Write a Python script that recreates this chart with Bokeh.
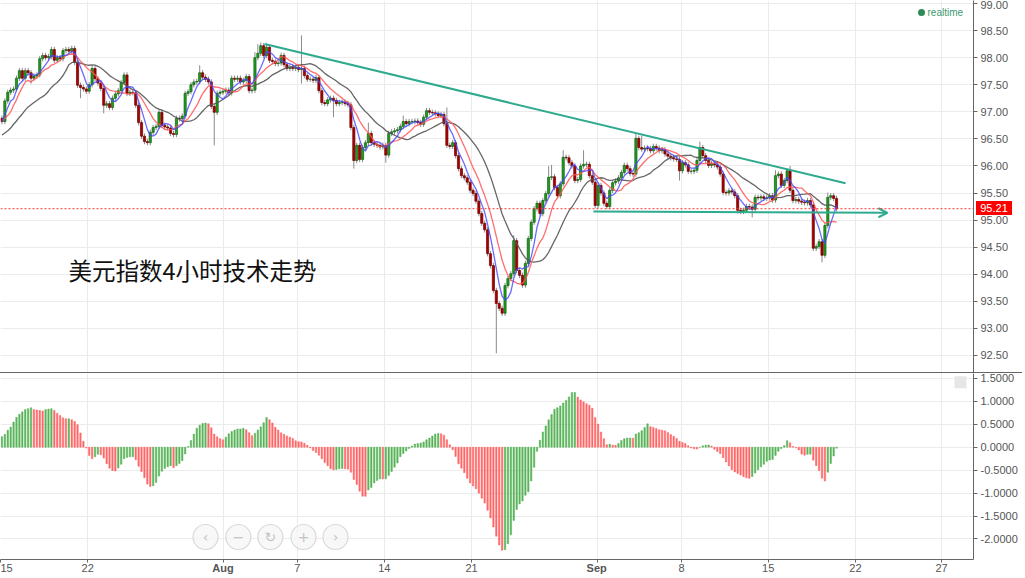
import numpy as np
import pandas as pd
from bokeh.plotting import figure
from bokeh.layouts import column
from bokeh.models import (ColumnDataSource, FixedTicker, Grid, Span, Label, Arrow,
                          OpenHead, NumeralTickFormatter, Range1d, Div)
from bokeh.embed import file_html
from bokeh.resources import INLINE
from bokeh.core.properties import value

# ---------------- data (4h candles, index 0 = Jul 15) ----------------
CLOSE = [
    96.82, 97.2, 97.36, 97.4, 97.42, 97.62, 97.76, 97.62, 97.76, 97.72,
    97.62, 97.66, 97.68, 97.98, 98.04, 98.0, 98.02, 98.15, 97.95, 98.0,
    97.98, 98.13, 98.15, 98.12, 98.17, 97.91, 97.49, 97.45, 97.42, 97.38,
    97.5, 97.8, 97.61, 97.53, 97.43, 97.12, 97.15, 97.08, 97.25, 97.33,
    97.39, 97.54, 97.68, 97.34, 97.36, 97.35, 97.12, 96.8, 96.55, 96.45,
    96.43, 96.62, 96.71, 96.73, 96.99, 96.75, 96.72, 96.7, 96.6, 96.58,
    96.88, 96.87, 96.92, 97.34, 97.37, 97.5, 97.55, 97.56, 97.72, 97.64,
    97.6, 97.55, 97.1, 96.99, 97.34, 97.36, 97.38, 97.4, 97.35, 97.62,
    97.6, 97.62, 97.55, 97.58, 97.65, 97.39, 97.4, 98.0, 98.08, 98.22,
    98.04, 98.19, 97.95, 97.93, 97.89, 97.9, 98.04, 97.87, 97.8, 97.82,
    97.8, 97.82, 97.78, 97.8, 97.67, 97.6, 97.6, 97.58, 97.63, 97.39,
    97.17, 97.15, 97.22, 97.25, 97.21, 97.15, 97.17, 97.18, 97.15, 97.13,
    96.71, 96.1, 96.38, 96.12, 96.34, 96.43, 96.6, 96.43, 96.4, 96.38,
    96.35, 96.38, 96.2, 96.6, 96.63, 96.65, 96.67, 96.73, 96.82, 96.78,
    96.82, 96.82, 96.83, 96.8, 96.77, 96.9, 97.02, 96.99, 96.98, 96.96,
    96.93, 96.95, 96.78, 96.38, 96.36, 96.43, 96.19, 95.95, 95.82, 95.78,
    95.7, 95.55, 95.49, 95.35, 95.12, 94.94, 94.82, 94.38, 94.16, 93.7,
    93.46, 93.37, 93.28, 93.79, 93.92, 94.01, 94.62, 94.07, 93.98, 93.8,
    94.2, 94.66, 94.96, 95.21, 95.31, 95.12, 95.36, 95.49, 95.79, 95.8,
    95.6, 95.45, 95.67, 96.16, 96.15, 96.06, 96.0, 95.73, 95.75, 96.0,
    96.03, 96.03, 95.82, 95.7, 95.27, 95.64, 95.5, 95.31, 95.25, 95.55,
    95.69, 95.72, 95.78, 95.88, 96.01, 95.95, 95.86, 95.85, 96.51, 96.34,
    96.31, 96.33, 96.32, 96.28, 96.36, 96.33, 96.28, 96.3, 96.22, 96.18,
    96.15, 96.13, 96.12, 95.91, 96.06, 96.02, 95.9, 95.9, 95.92, 96.1,
    96.34, 96.19, 96.1, 96.01, 96.04, 96.02, 95.98, 95.85, 95.51, 95.5,
    95.54, 95.52, 95.45, 95.18, 95.16, 95.18, 95.25, 95.24, 95.2, 95.42,
    95.41, 95.43, 95.4, 95.41, 95.45, 95.37, 95.82, 95.85, 95.64, 95.73,
    95.91, 95.55, 95.36, 95.38, 95.35, 95.33, 95.32, 95.36, 95.28, 94.48,
    94.51, 94.6, 94.35, 94.9, 95.42, 95.45, 95.4, 95.21,
]
OPEN_FIRST = 96.88
WICK = 0.05
HIGHS = {87: 98.1, 88: 98.25, 89: 98.28, 90: 98.25, 91: 98.26, 103: 98.41, 68: 97.86,
         54: 97.05, 126: 96.8, 138: 96.93, 153: 97.08, 176: 94.72, 188: 96.0, 189: 96.02,
         193: 96.29, 200: 96.29, 218: 96.6, 220: 96.56, 240: 96.45, 266: 95.92, 271: 96.0,
         284: 95.51}
LOWS = {10: 97.52, 27: 97.25, 35: 96.97, 50: 96.38, 73: 96.38, 103: 97.52, 114: 96.9,
        121: 95.95, 132: 96.06, 170: 92.54, 233: 95.73, 253: 95.12, 258: 95.05, 282: 94.22}

AO_HEAD = [0.23, 0.28, 0.37, 0.44, 0.55, 0.65, 0.72, 0.77, 0.82, 0.84, 0.86, 0.82, 0.81,
           0.8, 0.79, 0.82, 0.83, 0.84, 0.8, 0.74, 0.69, 0.64, 0.62, 0.62, 0.6, 0.56,
           0.49, 0.31, 0.13, -0.02, -0.18, -0.25, -0.21]
BLUE_HEAD = [96.82, 96.95, 97.08, 97.2]
RED_HEAD = [96.84, 96.88, 96.93, 97.0, 97.12, 97.22, 97.35, 97.45, 97.55, 97.58]
GRAY_HEAD = [96.57, 96.61, 96.65, 96.7, 96.77, 96.83, 96.9, 96.96, 97.03, 97.09, 97.13,
             97.17, 97.21, 97.25, 97.28, 97.32, 97.38, 97.45, 97.5, 97.54, 97.6, 97.67,
             97.76]

TICK_POS = [0, 30, 76.7, 102.1, 132, 162, 205.2, 234.2, 264, 294, 323.6]
TICK_LABELS = ["15", "22", "Aug", "7", "14", "21", "Sep", "8", "15", "22", "27"]
BOLD_LABELS = ["Aug", "Sep"]
PRICE_TICKS = [92.5, 93.0, 93.5, 94.0, 94.5, 95.0, 95.5, 96.0, 96.5, 97.0, 97.5, 98.0, 98.5, 99.0]
OSC_TICKS = [-2.0, -1.5, -1.0, -0.5, 0.0, 0.5, 1.0, 1.5]

TREND_X = [90.8, 290.6]
TREND_Y = [98.25, 95.68]
SUPPORT_X = [203.9, 305.0]
SUPPORT_Y = [95.16, 95.135]
LAST_PRICE = 95.21
TITLE = "美元指数4小时技术走势"
NAV_X = [70.5, 81.8, 92.8, 104.2, 115.2]
NAV_SYM = ["‹", "−", "↻", "+", "›"]

# ---------------- derived ----------------
close = np.array(CLOSE, dtype=float)
n = len(close)
opn = np.concatenate([[OPEN_FIRST], close[:-1]])
hi = np.maximum(opn, close) + WICK
lo = np.minimum(opn, close) - WICK
for k, v in HIGHS.items():
    hi[k] = max(hi[k], v)
for k, v in LOWS.items():
    lo[k] = min(lo[k], v)
xs = np.arange(n) + 0.5
up = close >= opn

s = pd.Series(close)
blue = s.rolling(5).mean().to_numpy(); blue[:len(BLUE_HEAD)] = BLUE_HEAD
red = s.rolling(10).mean().to_numpy(); red[:len(RED_HEAD)] = RED_HEAD
gray = s.rolling(20).mean().to_numpy(); gray[:len(GRAY_HEAD)] = GRAY_HEAD
ao = (s.rolling(5).mean() - s.rolling(34).mean()).to_numpy()
ao[:len(AO_HEAD)] = AO_HEAD
ao_up = np.diff(ao, prepend=ao[0]) >= 0

GREEN_C = "#1f9e1f"; GREEN_L = "#0f5e0f"
RED_C = "#a80000"; RED_L = "#700000"
TEAL = "#2eaa8f"
AXC = "#666666"; LBL = "#555555"; GRID = "#ebebeb"
FONT = "Liberation Sans"

PX = 2.908  # reference pixels per candle
FRAME_W = 973
xr = Range1d(0, FRAME_W / PX)
TOP_H = 373
BOT_H = 186
Y_LO, Y_HI = 92.167, 99.055
OSC_LO, OSC_HI = -2.447, 1.606


def style_right_axis(p, ticks, fmt):
    ax = p.yaxis[0]
    ax.ticker = FixedTicker(ticks=ticks, minor_ticks=[])
    ax.formatter = NumeralTickFormatter(format=fmt)
    ax.axis_line_color = AXC
    ax.major_tick_line_color = AXC
    ax.major_tick_out = 4
    ax.major_tick_in = 0
    ax.minor_tick_line_color = None
    ax.major_label_standoff = 3
    ax.major_label_text_font_size = "11px"
    ax.major_label_text_color = LBL
    ax.major_label_text_font = FONT
    p.ygrid.grid_line_color = GRID


# ---------------- price panel ----------------
top = figure(frame_width=FRAME_W, frame_height=TOP_H, x_range=xr, y_range=Range1d(Y_LO, Y_HI),
             x_axis_type=None, y_axis_location="right", output_backend="svg",
             toolbar_location=None, min_border_left=0, min_border_right=50,
             min_border_top=0, min_border_bottom=0, outline_line_color=None,
             background_fill_color="white", border_fill_color="white")
style_right_axis(top, PRICE_TICKS, "0.00")
top.add_layout(Grid(dimension=0, ticker=FixedTicker(ticks=TICK_POS, minor_ticks=[]),
                    grid_line_color=GRID))

top.segment(xs, hi, xs, lo, line_color="#8a8a8a", line_width=1)
bu = ColumnDataSource(dict(x=xs[up], t=np.maximum(opn, close)[up], b=np.minimum(opn, close)[up]))
bd = ColumnDataSource(dict(x=xs[~up], t=np.maximum(opn, close)[~up], b=np.minimum(opn, close)[~up]))
top.vbar(x="x", top="t", bottom="b", width=0.75, source=bu, fill_color=GREEN_C, line_color=GREEN_L, line_width=0.7)
top.vbar(x="x", top="t", bottom="b", width=0.75, source=bd, fill_color=RED_C, line_color=RED_L, line_width=0.7)

top.line(xs, gray, line_color="#555555", line_width=1.3, line_alpha=0.9)
top.line(xs, red, line_color="#ff5555", line_width=1.3, line_alpha=0.85)
top.line(xs, blue, line_color="#4545ff", line_width=1.3, line_alpha=0.8)

top.line(TREND_X, TREND_Y, line_color=TEAL, line_width=2)
top.add_layout(Arrow(end=OpenHead(size=9, line_color=TEAL, line_width=2),
                     x_start=SUPPORT_X[0], y_start=SUPPORT_Y[0],
                     x_end=SUPPORT_X[1], y_end=SUPPORT_Y[1],
                     line_color=TEAL, line_width=2))
top.add_layout(Span(location=LAST_PRICE, dimension="width", line_color="#ff3333",
                    line_dash="2 2", line_width=1))
top.add_layout(Span(location=Y_LO + 0.005, dimension="width", line_color="#555555", line_width=1))

top.add_layout(Label(x=68 / PX, y=94.07, text=TITLE, text_font="Noto Sans CJK SC",
                     text_font_size="23.5px", text_color="#111111", text_baseline="middle"))
top.scatter([921 / PX], [98.834], size=7, fill_color="#2e8b57", line_color=None)
top.add_layout(Label(x=927 / PX, y=98.834, text="realtime", text_font=FONT,
                     text_font_size="10px", text_color="#3c9a6e", text_baseline="middle"))

# ---------------- oscillator panel ----------------
bot = figure(frame_width=FRAME_W, frame_height=BOT_H, x_range=xr, y_range=Range1d(OSC_LO, OSC_HI),
             y_axis_location="right", output_backend="svg", toolbar_location=None,
             min_border_left=0, min_border_right=50, min_border_top=0, min_border_bottom=0,
             outline_line_color=None, background_fill_color="white", border_fill_color="white")
style_right_axis(bot, OSC_TICKS, "0.0000")
xa = bot.xaxis[0]
xa.ticker = FixedTicker(ticks=TICK_POS, minor_ticks=[])
xa.major_label_overrides = {p: ("" if l in BOLD_LABELS else l) for p, l in zip(TICK_POS, TICK_LABELS)}
xa.axis_line_color = AXC
xa.major_tick_line_color = AXC
xa.major_tick_out = 3
xa.major_tick_in = 0
xa.minor_tick_line_color = None
xa.major_label_standoff = 1
xa.major_label_text_font_size = "11px"
xa.major_label_text_color = LBL
xa.major_label_text_font = FONT
bot.xgrid.grid_line_color = GRID

hs = ColumnDataSource(dict(x=xs, top=ao, c=np.where(ao_up, "#4cae4c", "#ff5c5c")))
bot.vbar(x="x", top="top", bottom=0, width=0.5, source=hs, fill_color="c", line_color="c",
         line_width=0.5, fill_alpha=0.9, line_alpha=0.9)

nav_y = [-1.957] * len(NAV_X)
bot.scatter(NAV_X, nav_y, size=25, fill_color="#f6f6f6", line_color="#d9d9d9", fill_alpha=0.8, line_width=1.2)
bot.text(NAV_X, nav_y, text=NAV_SYM, text_align="center", text_baseline="middle",
         text_color="#c4c4c4", text_font_size="14px", text_font=value("DejaVu Sans"))
bot.scatter([960 / PX], [1.416], marker="square", size=12, fill_color="#e6e6e6", line_color=None)

# ---------------- overlays positioned from the scales (outside plot frames) ----------------
price_top = (Y_HI - LAST_PRICE) / (Y_HI - Y_LO) * TOP_H
overlays = [
    Div(text="95.21", width=36, height=14, margin=0,
        styles={"position": "absolute", "left": f"{FRAME_W + 3}px", "top": f"{price_top - 7:.1f}px",
                "background-color": "#ff0000", "color": "white", "font-size": "11px",
                "font-family": FONT, "line-height": "14px", "text-align": "center"}),
    Div(text="", width=1022, height=1, margin=0,
        styles={"position": "absolute", "left": "0px", "top": f"{TOP_H - 1}px",
                "background-color": "#666666"}),
]
for p_, l_ in zip(TICK_POS, TICK_LABELS):
    if l_ in BOLD_LABELS:
        overlays.append(Div(text=l_, width=30, height=13, margin=0,
                            styles={"position": "absolute", "left": f"{p_ * PX - 15:.1f}px",
                                    "top": f"{TOP_H + BOT_H + 3}px", "font-weight": "bold",
                                    "color": LBL, "font-size": "11px", "font-family": FONT,
                                    "line-height": "13px", "text-align": "center"}))

layout = column(top, bot, *overlays, spacing=0, styles={"position": "relative"})
open("out.html", "w").write(file_html(layout, INLINE))
